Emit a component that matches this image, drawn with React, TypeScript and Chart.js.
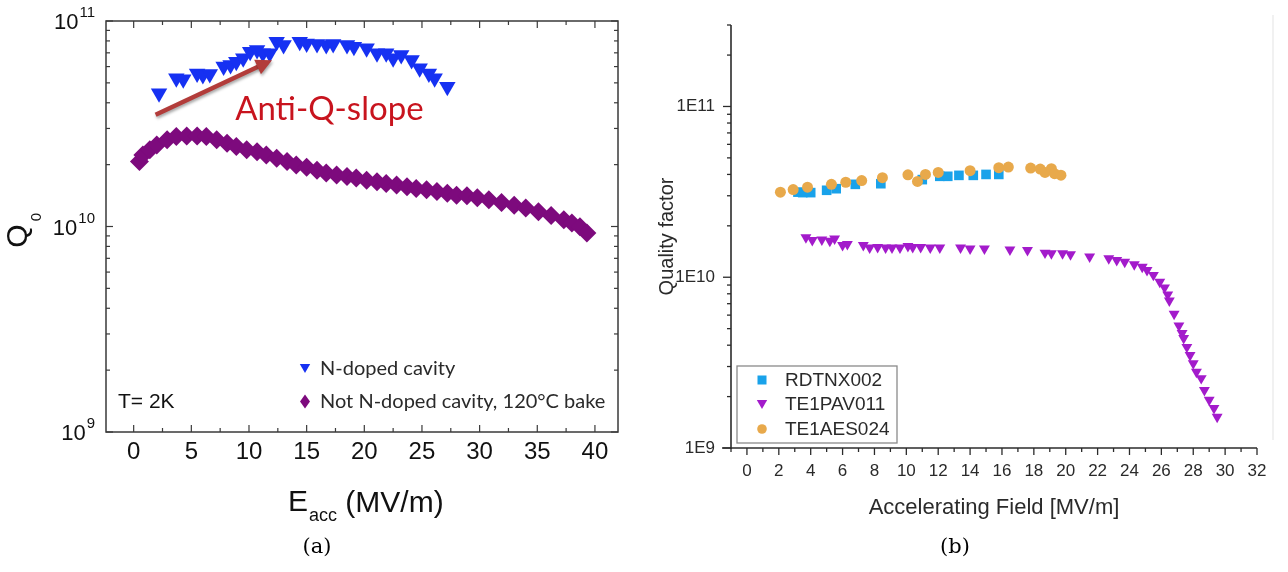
import React, { useEffect, useRef } from "react";
import { Chart, registerables } from "chart.js";

Chart.register(...registerables);

// ---------------- Panel (a) data ----------------
const nDopedField = [2.2, 3.7, 4.3, 5.5, 6.0, 6.6, 7.8, 8.4, 8.9, 9.5, 10.1, 10.7, 11.2, 11.8, 12.4, 13.0, 14.4, 15.0, 15.9, 16.7, 17.3, 18.5, 19.1, 20.2, 21.1, 21.9, 22.5, 23.2, 24.1, 24.8, 25.6, 26.1, 27.2];
const nDopedQ = [4.45e10, 5.26e10, 5.2e10, 5.56e10, 5.46e10, 5.52e10, 6.0e10, 6.1e10, 6.34e10, 6.58e10, 7.09e10, 7.23e10, 6.96e10, 6.96e10, 7.92e10, 7.64e10, 7.92e10, 7.78e10, 7.72e10, 7.64e10, 7.72e10, 7.64e10, 7.5e10, 7.36e10, 6.96e10, 6.96e10, 6.58e10, 6.84e10, 6.46e10, 5.89e10, 5.56e10, 5.26e10, 4.79e10];
const bakedField = [0.5, 0.8, 1.4, 2.0, 2.9, 3.7, 4.6, 5.5, 6.3, 7.2, 8.1, 8.9, 9.8, 10.7, 11.5, 12.4, 13.3, 14.1, 15.0, 15.9, 16.7, 17.6, 18.5, 19.3, 20.2, 21.1, 21.9, 22.8, 23.7, 24.5, 25.4, 26.3, 27.2, 28.0, 28.9, 29.8, 30.8, 31.9, 33.0, 34.0, 35.1, 36.2, 37.3, 38.0, 38.7, 39.3];
const bakedQ = [2.07e10, 2.23e10, 2.36e10, 2.49e10, 2.64e10, 2.74e10, 2.76e10, 2.76e10, 2.74e10, 2.64e10, 2.54e10, 2.45e10, 2.36e10, 2.31e10, 2.23e10, 2.15e10, 2.07e10, 1.99e10, 1.94e10, 1.88e10, 1.82e10, 1.78e10, 1.75e10, 1.72e10, 1.68e10, 1.65e10, 1.62e10, 1.59e10, 1.56e10, 1.53e10, 1.51e10, 1.48e10, 1.45e10, 1.42e10, 1.41e10, 1.38e10, 1.35e10, 1.31e10, 1.27e10, 1.23e10, 1.18e10, 1.13e10, 1.08e10, 1.04e10, 9.96e9, 9.3e9];
const xTicksA = [0, 5, 10, 15, 20, 25, 30, 35, 40];
const xMinorTicksA = [2.5, 7.5, 12.5, 17.5, 22.5, 27.5, 32.5, 37.5];
const yDecadesA = [1e9, 1e10, 1e11];
const yExponentsA = ["9", "10", "11"];
const legendLabelsA = ["N-doped cavity", "Not N-doped cavity, 120°C bake"];
const arrowStartA = [1.9, 3.5e10];
const arrowEndA = [12.0, 6.45e10];
const annotationTextA = "Anti-Q-slope";
const annotationAnchorA = [8.8, 3.3e10];
const tempLabelA = "T= 2K";

// ---------------- Panel (b) data ----------------
const rdtnxField = [3.2, 3.5, 4.0, 5.0, 5.6, 6.8, 8.4, 11.0, 12.1, 12.6, 13.3, 14.2, 15.0, 15.8];
const rdtnxQ = [3.15e10, 3.13e10, 3.13e10, 3.23e10, 3.3e10, 3.5e10, 3.53e10, 3.73e10, 3.9e10, 3.9e10, 3.95e10, 3.95e10, 4.0e10, 4.0e10];
const pavField = [3.7, 4.1, 4.7, 5.2, 5.5, 6.0, 6.3, 7.3, 7.7, 8.2, 8.7, 9.1, 9.6, 10.1, 10.4, 10.9, 11.5, 12.1, 13.4, 14.0, 14.9, 16.5, 17.6, 18.7, 19.1, 19.8, 20.3, 21.5, 22.7, 23.2, 23.7, 24.3, 24.8, 25.1, 25.5, 25.9, 26.2, 26.4, 26.5, 26.8, 27.1, 27.3, 27.4, 27.6, 27.8, 28.0, 28.2, 28.5, 28.7, 29.0, 29.3, 29.5];
const pavQ = [1.71e10, 1.65e10, 1.66e10, 1.63e10, 1.68e10, 1.54e10, 1.56e10, 1.54e10, 1.49e10, 1.5e10, 1.49e10, 1.49e10, 1.49e10, 1.52e10, 1.5e10, 1.5e10, 1.49e10, 1.49e10, 1.49e10, 1.47e10, 1.47e10, 1.45e10, 1.44e10, 1.39e10, 1.38e10, 1.38e10, 1.36e10, 1.32e10, 1.29e10, 1.26e10, 1.23e10, 1.19e10, 1.15e10, 1.1e10, 1.03e10, 9.4e9, 8.7e9, 7.9e9, 7.3e9, 6.1e9, 5.2e9, 4.7e9, 4.4e9, 3.9e9, 3.5e9, 3.13e9, 2.79e9, 2.56e9, 2.18e9, 1.91e9, 1.71e9, 1.52e9];
const aesField = [2.1, 2.9, 3.8, 5.3, 6.2, 7.2, 8.5, 10.1, 10.7, 11.2, 12.0, 14.0, 15.8, 16.4, 17.8, 18.4, 18.7, 19.1, 19.3, 19.7];
const aesQ = [3.15e10, 3.26e10, 3.37e10, 3.5e10, 3.6e10, 3.68e10, 3.83e10, 3.98e10, 3.64e10, 4.0e10, 4.11e10, 4.21e10, 4.38e10, 4.42e10, 4.36e10, 4.3e10, 4.11e10, 4.32e10, 4.04e10, 3.96e10];
const xTicksB = [0, 2, 4, 6, 8, 10, 12, 14, 16, 18, 20, 22, 24, 26, 28, 30, 32];
const xMinorTicksB = [-1, 1, 3, 5, 7, 9, 11, 13, 15, 17, 19, 21, 23, 25, 27, 29, 31];
const yDecadesB = [1e9, 1e10, 1e11];
const yLabelsB = ["1E9", "1E10", "1E11"];
const legendLabelsB = ["RDTNX002", "TE1PAV011", "TE1AES024"];

const logMinorMultipliers = [2, 3, 4, 5, 6, 7, 8, 9];

const zip = (xs: number[], ys: number[]) => xs.map((x, i) => ({ x, y: ys[i] }));

function triDown(ctx: CanvasRenderingContext2D, x: number, y: number, r: number) {
  const h = (r * Math.sqrt(3)) / 2;
  ctx.beginPath();
  ctx.moveTo(x - h, y - r / 2);
  ctx.lineTo(x + h, y - r / 2);
  ctx.lineTo(x, y + r);
  ctx.closePath();
}

function seg(ctx: CanvasRenderingContext2D, x1: number, y1: number, x2: number, y2: number) {
  ctx.beginPath();
  ctx.moveTo(x1, y1);
  ctx.lineTo(x2, y2);
  ctx.stroke();
}

const panelAPlugin = {
  id: "panelA",
  afterDraw(chart: any) {
    const ctx: CanvasRenderingContext2D = chart.ctx;
    const ca = chart.chartArea;
    const xs = chart.scales.x;
    const ys = chart.scales.y;
    ctx.save();
    // frame
    ctx.strokeStyle = "#3a3a3a";
    ctx.lineWidth = 1.5;
    ctx.strokeRect(ca.left, ca.top, ca.right - ca.left, ca.bottom - ca.top);
    ctx.lineWidth = 1.2;
    xTicksA.forEach((v) => {
      const p = xs.getPixelForValue(v);
      seg(ctx, p, ca.bottom, p, ca.bottom - 7);
      seg(ctx, p, ca.top, p, ca.top + 7);
    });
    xMinorTicksA.forEach((v) => {
      const p = xs.getPixelForValue(v);
      seg(ctx, p, ca.bottom, p, ca.bottom - 4);
      seg(ctx, p, ca.top, p, ca.top + 4);
    });
    yDecadesA.forEach((d) => {
      const p = ys.getPixelForValue(d);
      seg(ctx, ca.left, p, ca.left + 7, p);
      seg(ctx, ca.right, p, ca.right - 7, p);
      logMinorMultipliers.forEach((k) => {
        if (k * d > ys.max) return;
        const q = ys.getPixelForValue(k * d);
        seg(ctx, ca.left, q, ca.left + 4, q);
        seg(ctx, ca.right, q, ca.right - 4, q);
      });
    });
    // y tick labels 10^n
    ctx.fillStyle = "#111";
    ctx.textBaseline = "alphabetic";
    ctx.textAlign = "right";
    yDecadesA.forEach((d, i) => {
      const p = ys.getPixelForValue(d);
      const rightEdge = ca.left - 11;
      ctx.font = '15px "Liberation Sans"';
      ctx.fillText(yExponentsA[i], rightEdge, p - 4);
      const ew = ctx.measureText(yExponentsA[i]).width;
      ctx.font = '22px "Liberation Sans"';
      ctx.fillText("10", rightEdge - ew - 1, p + 8);
    });
    // y title Q0
    ctx.save();
    ctx.translate(27, 231);
    ctx.rotate(-Math.PI / 2);
    ctx.textAlign = "left";
    ctx.font = '30px "Liberation Sans"';
    const qw = ctx.measureText("Q").width;
    ctx.fillText("Q", -qw / 2 - 5, 0);
    ctx.font = '15px "Liberation Sans"';
    ctx.fillText("0", qw / 2 - 2, 14);
    ctx.restore();
    // x title E_acc (MV/m)
    ctx.textAlign = "left";
    ctx.font = '30px "Liberation Sans"';
    let tx = 288;
    ctx.fillText("E", tx, 511);
    tx += ctx.measureText("E").width + 1;
    ctx.font = '18px "Liberation Sans"';
    ctx.fillText("acc", tx, 521);
    tx += ctx.measureText("acc").width;
    ctx.font = '30px "Liberation Sans"';
    ctx.fillText(" (MV/m)", tx, 512);
    // legend
    ctx.fillStyle = "#1631f2";
    triDown(ctx, 305, 367, 6);
    ctx.fill();
    ctx.fillStyle = "#7d0a7d";
    ctx.beginPath();
    ctx.moveTo(305, 394.5);
    ctx.lineTo(310, 401.5);
    ctx.lineTo(305, 408.5);
    ctx.lineTo(300, 401.5);
    ctx.closePath();
    ctx.fill();
    ctx.fillStyle = "#2a2a2a";
    ctx.font = '20px Lato';
    ctx.textBaseline = "middle";
    ctx.fillText(legendLabelsA[0], 320, 369);
    ctx.fillText(legendLabelsA[1], 320, 402);
    // T = 2K
    ctx.fillStyle = "#111";
    ctx.font = '21px "Liberation Sans"';
    ctx.fillText(tempLabelA, 118, 402);
    // arrow
    const x1 = xs.getPixelForValue(arrowStartA[0]);
    const y1 = ys.getPixelForValue(arrowStartA[1]);
    const x2 = xs.getPixelForValue(arrowEndA[0]);
    const y2 = ys.getPixelForValue(arrowEndA[1]);
    const ang = Math.atan2(y2 - y1, x2 - x1);
    ctx.save();
    ctx.shadowColor = "rgba(0,0,0,0.35)";
    ctx.shadowBlur = 3;
    ctx.shadowOffsetX = 1;
    ctx.shadowOffsetY = 2;
    ctx.strokeStyle = "#b23c3a";
    ctx.fillStyle = "#b23c3a";
    ctx.lineWidth = 4.5;
    ctx.lineCap = "butt";
    seg(ctx, x1, y1, x2 - Math.cos(ang) * 12, y2 - Math.sin(ang) * 12);
    ctx.beginPath();
    ctx.moveTo(x2, y2);
    ctx.lineTo(x2 - Math.cos(ang) * 16 - Math.sin(ang) * 8, y2 - Math.sin(ang) * 16 + Math.cos(ang) * 8);
    ctx.lineTo(x2 - Math.cos(ang) * 16 + Math.sin(ang) * 8, y2 - Math.sin(ang) * 16 - Math.cos(ang) * 8);
    ctx.closePath();
    ctx.fill();
    ctx.restore();
    // annotation text
    ctx.fillStyle = "#c8141e";
    ctx.font = '33px Lato';
    ctx.textBaseline = "alphabetic";
    ctx.fillText(annotationTextA, xs.getPixelForValue(annotationAnchorA[0]), ys.getPixelForValue(annotationAnchorA[1]));
    // caption
    ctx.fillStyle = "#000";
    ctx.textAlign = "center";
    ctx.textBaseline = "middle";
    ctx.font = '21px "DejaVu Serif"';
    ctx.fillText("(a)", 317, 548);
    ctx.restore();
  },
};

const panelBPlugin = {
  id: "panelB",
  afterDraw(chart: any) {
    const ctx: CanvasRenderingContext2D = chart.ctx;
    const ca = chart.chartArea;
    const xs = chart.scales.x;
    const ys = chart.scales.y;
    ctx.save();
    // faint scan edge at right of panel
    ctx.strokeStyle = "#ececec";
    ctx.lineWidth = 1.5;
    seg(ctx, 628, 15, 628, 440);
    ctx.strokeStyle = "#2b2b2b";
    ctx.lineWidth = 1.6;
    seg(ctx, ca.left, ca.top, ca.left, ca.bottom + 1);
    seg(ctx, ca.left - 9, ca.bottom, ca.right, ca.bottom);
    ctx.lineWidth = 1.3;
    xTicksB.forEach((v) => {
      const p = xs.getPixelForValue(v);
      seg(ctx, p, ca.bottom, p, ca.bottom + 7);
    });
    xMinorTicksB.forEach((v) => {
      const p = xs.getPixelForValue(v);
      seg(ctx, p, ca.bottom, p, ca.bottom + 4);
    });
    yDecadesB.forEach((d) => {
      const p = ys.getPixelForValue(d);
      seg(ctx, ca.left, p, ca.left - 8, p);
      logMinorMultipliers.forEach((k) => {
        if (k * d > ys.max * 1.001) return;
        const q = ys.getPixelForValue(k * d);
        seg(ctx, ca.left, q, ca.left - 4, q);
      });
    });
    // legend
    const bx = 92, by = 366, bw = 160, bh = 77;
    ctx.fillStyle = "#fff";
    ctx.fillRect(bx, by, bw, bh);
    ctx.strokeStyle = "#8a8a8a";
    ctx.lineWidth = 1.3;
    ctx.strokeRect(bx, by, bw, bh);
    const mx = 117;
    const rows = [380, 404, 429];
    ctx.fillStyle = "#19a2ea";
    ctx.fillRect(mx - 4.5, rows[0] - 4.5, 9, 9);
    ctx.fillStyle = "#a31bcb";
    triDown(ctx, mx, rows[1] - 1, 6);
    ctx.fill();
    ctx.fillStyle = "#e8a94b";
    ctx.beginPath();
    ctx.arc(mx, rows[2], 4.8, 0, Math.PI * 2);
    ctx.fill();
    ctx.fillStyle = "#2a2a2a";
    ctx.font = '19px "Liberation Sans"';
    ctx.textAlign = "left";
    ctx.textBaseline = "middle";
    legendLabelsB.forEach((t, i) => ctx.fillText(t, 140, rows[i] + 1));
    // caption
    ctx.fillStyle = "#000";
    ctx.textAlign = "center";
    ctx.font = '21px "DejaVu Serif"';
    ctx.fillText("(b)", 310, 548);
    ctx.restore();
  },
};

function fixScale(size: number, horizontal: boolean) {
  return (scale: any) => {
    if (horizontal) scale.height = size;
    else scale.width = size;
    scale.paddingLeft = 0;
    scale.paddingRight = 0;
    scale.paddingTop = 0;
    scale.paddingBottom = 0;
  };
}

export default function App() {
  const refA = useRef<HTMLCanvasElement>(null);
  const refB = useRef<HTMLCanvasElement>(null);

  useEffect(() => {
    const chartA = new Chart(refA.current as HTMLCanvasElement, {
      type: "scatter",
      data: {
        datasets: [
          {
            label: legendLabelsA[0],
            data: zip(nDopedField, nDopedQ),
            pointStyle: "triangle",
            pointRotation: 180,
            pointRadius: 9.5,
            backgroundColor: "#1631f2",
            borderColor: "#1631f2",
            borderWidth: 0,
          },
          {
            label: legendLabelsA[1],
            data: zip(bakedField, bakedQ),
            pointStyle: "rectRot",
            pointRadius: 9.5,
            backgroundColor: "#7d0a7d",
            borderColor: "#7d0a7d",
            borderWidth: 0,
          },
        ],
      },
      options: {
        animation: false,
        responsive: false,
        events: [],
        layout: { padding: { left: 0, top: 21, right: 27, bottom: 0 } },
        plugins: { legend: { display: false }, tooltip: { enabled: false } },
        scales: {
          x: {
            type: "linear",
            min: -2.4,
            max: 42,
            afterBuildTicks: (s: any) => {
              s.ticks = xTicksA.map((v) => ({ value: v }));
            },
            afterFit: fixScale(140, true),
            grid: { display: false, drawTicks: false },
            border: { display: false },
            ticks: {
              autoSkip: false,
              maxRotation: 0,
              minRotation: 0,
              padding: 6,
              color: "#111",
              font: { family: "Liberation Sans", size: 24 },
              callback: (_v: any, i: number) => String(xTicksA[i]),
            },
          },
          y: {
            type: "logarithmic",
            min: 1e9,
            max: 1e11,
            afterBuildTicks: (s: any) => {
              s.ticks = yDecadesA.map((v) => ({ value: v }));
            },
            afterFit: fixScale(106, false),
            grid: { display: false, drawTicks: false },
            border: { display: false },
            ticks: { display: false },
          },
        },
      },
      plugins: [panelAPlugin],
    } as any);

    const chartB = new Chart(refB.current as HTMLCanvasElement, {
      type: "scatter",
      data: {
        datasets: [
          {
            label: legendLabelsB[0],
            data: zip(rdtnxField, rdtnxQ),
            pointStyle: "rect",
            pointRadius: 6.8,
            backgroundColor: "#19a2ea",
            borderColor: "#19a2ea",
            borderWidth: 0,
            order: 1,
          },
          {
            label: legendLabelsB[1],
            data: zip(pavField, pavQ),
            pointStyle: "triangle",
            pointRotation: 180,
            pointRadius: 6.3,
            backgroundColor: "#a31bcb",
            borderColor: "#a31bcb",
            borderWidth: 0,
            order: 2,
          },
          {
            label: legendLabelsB[2],
            data: zip(aesField, aesQ),
            pointStyle: "circle",
            pointRadius: 5.5,
            backgroundColor: "#e8a94b",
            borderColor: "#e8a94b",
            borderWidth: 0,
            order: 0,
          },
        ],
      },
      options: {
        animation: false,
        responsive: false,
        events: [],
        layout: { padding: { left: 0, top: 25, right: 31, bottom: 0 } },
        plugins: { legend: { display: false }, tooltip: { enabled: false } },
        scales: {
          x: {
            type: "linear",
            min: -1,
            max: 32,
            afterBuildTicks: (s: any) => {
              s.ticks = xTicksB.map((v) => ({ value: v }));
            },
            afterFit: fixScale(124, true),
            grid: { display: false, drawTicks: false },
            border: { display: false },
            title: {
              display: true,
              text: "Accelerating Field [MV/m]",
              color: "#2a2a2a",
              font: { family: "Liberation Sans", size: 22 },
              padding: 51,
            },
            ticks: {
              autoSkip: false,
              maxRotation: 0,
              minRotation: 0,
              padding: 13,
              color: "#2a2a2a",
              font: { family: "Liberation Sans", size: 17 },
              callback: (_v: any, i: number) => String(xTicksB[i]),
            },
          },
          y: {
            type: "logarithmic",
            min: 1e9,
            max: 3e11,
            afterBuildTicks: (s: any) => {
              s.ticks = yDecadesB.map((v) => ({ value: v }));
            },
            afterFit: fixScale(86, false),
            grid: { display: false, drawTicks: false },
            border: { display: false },
            title: {
              display: true,
              text: "Quality factor",
              color: "#2a2a2a",
              font: { family: "Liberation Sans", size: 20 },
              padding: 10,
            },
            ticks: {
              padding: 16,
              color: "#2a2a2a",
              font: { family: "Liberation Sans", size: 17 },
              callback: (_v: any, i: number) => yLabelsB[i],
            },
          },
        },
      },
      plugins: [panelBPlugin],
    } as any);

    return () => {
      chartA.destroy();
      chartB.destroy();
    };
  }, []);

  return (
    <div style={{ position: "absolute", left: 0, top: 0, width: 1288, height: 572, background: "#fff" }}>
      <canvas ref={refA} width={645} height={572} style={{ position: "absolute", left: 0, top: 0 }} />
      <canvas ref={refB} width={643} height={572} style={{ position: "absolute", left: 645, top: 0 }} />
    </div>
  );
}
